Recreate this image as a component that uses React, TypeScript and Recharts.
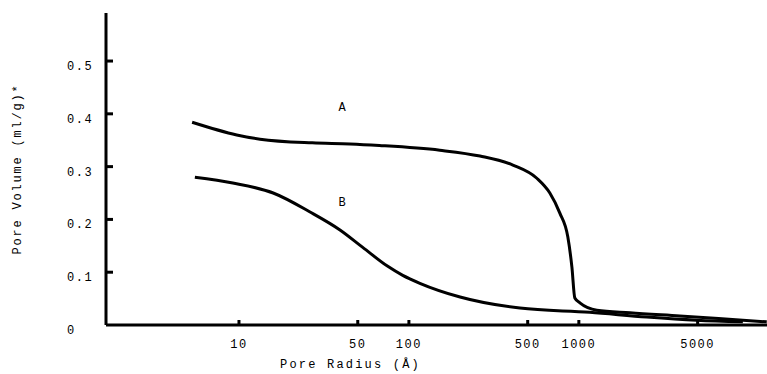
import { LineChart, Line, XAxis, YAxis, ReferenceDot } from 'recharts'

// Courbe A
const radiusA = [5.3, 9.7, 13.3, 27, 45, 67, 152, 262, 409, 566, 675, 773, 861, 910, 947, 1014, 1276, 2000, 3930, 9230, 12760]
const volumeA = [0.384, 0.36, 0.352, 0.345, 0.343, 0.34, 0.331, 0.32, 0.303, 0.278, 0.25, 0.212, 0.167, 0.11, 0.051, 0.042, 0.028, 0.023, 0.017, 0.009, 0.006]

// Courbe B
const radiusB = [5.5, 9.2, 15.9, 26.2, 39.3, 53.5, 74.3, 92, 116, 200, 450, 1160, 2510, 4940, 9230]
const volumeB = [0.28, 0.269, 0.25, 0.214, 0.18, 0.147, 0.112, 0.094, 0.079, 0.053, 0.032, 0.024, 0.015, 0.009, 0.006]

const xTicks = [10, 50, 100, 500, 1000, 5000]
const yTicks = [0, 0.1, 0.2, 0.3, 0.4, 0.5]

const dataA = radiusA.map((r, i) => ({ r, v: volumeA[i] }))
const dataB = radiusB.map((r, i) => ({ r, v: volumeB[i] }))

const FONT = "'Liberation Mono', 'DejaVu Sans Mono', monospace"

const XTick = (props: any) => {
  const { x, y, payload } = props
  return (
    <g>
      <line x1={x} y1={y} x2={x} y2={y - 5} stroke="#000" strokeWidth={3} />
      <text x={x} y={y + 23} textAnchor="middle" fontFamily={FONT} fontSize={12} letterSpacing={1.5} fill="#000">
        {payload.value}
      </text>
    </g>
  )
}

const YTick = (props: any) => {
  const { x, y, payload } = props
  const label = payload.value === 0 ? '0' : payload.value.toFixed(1)
  return (
    <g>
      {payload.value !== 0 && <line x1={x} y1={y} x2={x + 7} y2={y} stroke="#000" strokeWidth={3} />}
      <text x={x - 39} y={y + 9} textAnchor="start" fontFamily={FONT} fontSize={12} letterSpacing={1.5} fill="#000">
        {label}
      </text>
    </g>
  )
}

export default function App() {
  return (
    <div style={{ position: 'absolute', left: 0, top: 0, background: '#fff' }}>
      <LineChart width={767} height={374} margin={{ top: 13, right: 0, bottom: 0, left: 0 }}>
        <XAxis
          type="number"
          dataKey="r"
          scale="log"
          domain={[1.65, 12800]}
          ticks={xTicks}
          allowDataOverflow
          height={49}
          tickLine={false}
          tickSize={0}
          tickMargin={0}
          tick={<XTick />}
          axisLine={{ stroke: '#000', strokeWidth: 3 }}
          label={{
            value: 'Pore Radius (Å)',
            position: 'insideBottom',
            offset: 6,
            dx: -86,
            style: { fontFamily: FONT, fontSize: 12, letterSpacing: 2.2, fill: '#000' },
          }}
        />
        <YAxis
          type="number"
          domain={[0, 0.591]}
          ticks={yTicks}
          width={106}
          tickLine={false}
          tickSize={0}
          tickMargin={0}
          tick={<YTick />}
          axisLine={{ stroke: '#000', strokeWidth: 3 }}
          label={{
            value: 'Pore Volume (ml/g)*',
            angle: -90,
            position: 'insideLeft',
            offset: 17,
            style: { fontFamily: FONT, fontSize: 12, letterSpacing: 1.8, fill: '#000', textAnchor: 'middle' },
          }}
        />
        <Line data={dataA} dataKey="v" type="monotone" stroke="#000" strokeWidth={3} dot={false} isAnimationActive={false} />
        <Line data={dataB} dataKey="v" type="monotone" stroke="#000" strokeWidth={3} dot={false} isAnimationActive={false} />
        <ReferenceDot x={40.4} y={0.413} r={0} stroke="none" fill="none"
          label={{ value: 'A', position: 'center', style: { fontFamily: FONT, fontSize: 12, fill: '#000' } }} />
        <ReferenceDot x={40.4} y={0.233} r={0} stroke="none" fill="none"
          label={{ value: 'B', position: 'center', style: { fontFamily: FONT, fontSize: 12, fill: '#000' } }} />
      </LineChart>
    </div>
  )
}
